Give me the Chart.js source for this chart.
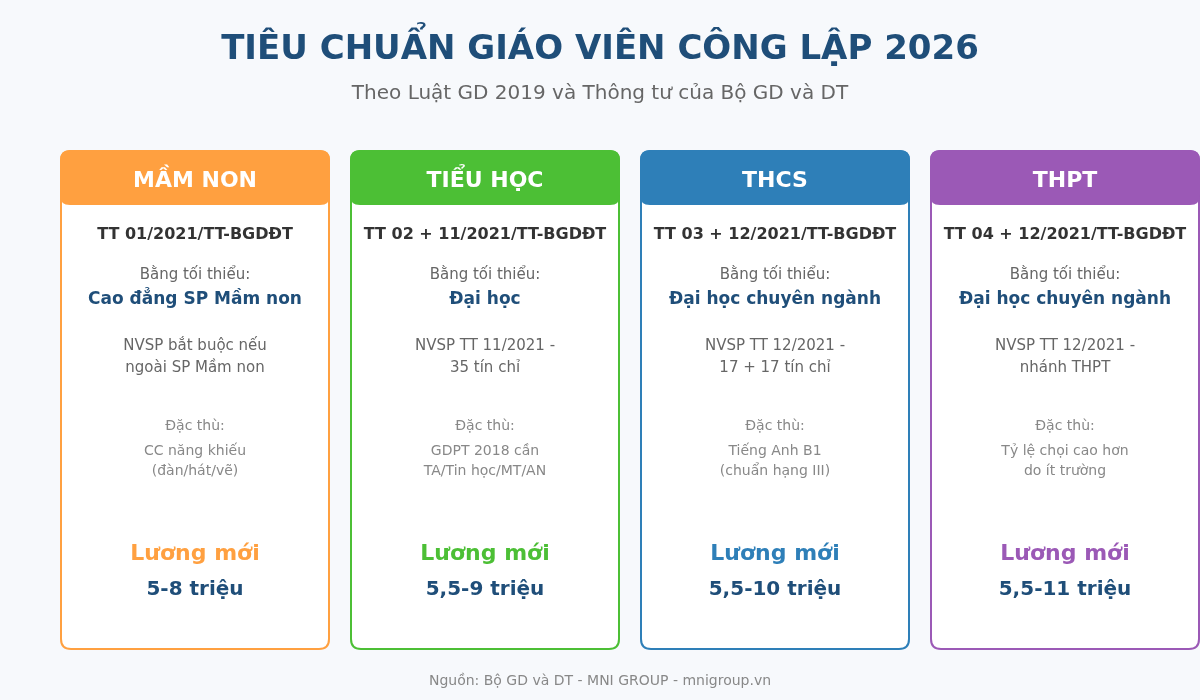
<!DOCTYPE html>
<html><head><meta charset="utf-8">
<script src="https://cdn.jsdelivr.net/npm/chart.js@4"></script>
<style>html,body{margin:0;padding:0;background:#f7f9fc;}#wrap{width:1200px;height:700px;}</style>
</head><body><div id="wrap"><canvas id="c" width="1200" height="700"></canvas></div>
<script>
const title = "TIÊU CHUẨN GIÁO VIÊN CÔNG LẬP 2026";
const subtitle = "Theo Luật GD 2019 và Thông tư của Bộ GD và DT";
const footer = "Nguồn: Bộ GD và DT - MNI GROUP - mnigroup.vn";
const categories = ["MẦM NON", "TIỂU HỌC", "THCS", "THPT"];
const colors = ["#ffa040", "#4cbf35", "#2e7fb8", "#9b59b6"];
const circulars = ["TT 01/2021/TT-BGDĐT", "TT 02 + 11/2021/TT-BGDĐT", "TT 03 + 12/2021/TT-BGDĐT", "TT 04 + 12/2021/TT-BGDĐT"];
const degrees = ["Cao đẳng SP Mầm non", "Đại học", "Đại học chuyên ngành", "Đại học chuyên ngành"];
const nvsp = [["NVSP bắt buộc nếu","ngoài SP Mầm non"],["NVSP TT 11/2021 -","35 tín chỉ"],["NVSP TT 12/2021 -","17 + 17 tín chỉ"],["NVSP TT 12/2021 -","nhánh THPT"]];
const special = [["CC năng khiếu","(đàn/hát/vẽ)"],["GDPT 2018 cần","TA/Tin học/MT/AN"],["Tiếng Anh B1","(chuẩn hạng III)"],["Tỷ lệ chọi cao hơn","do ít trường"]];
const salaries = ["5-8 triệu", "5,5-9 triệu", "5,5-10 triệu", "5,5-11 triệu"];
const positions = [0, 1, 2, 3];

const F = "'DejaVu Sans', sans-serif";
function rr(ctx,x,y,w,h,r){ctx.beginPath();ctx.moveTo(x+r,y);ctx.lineTo(x+w-r,y);ctx.quadraticCurveTo(x+w,y,x+w,y+r);ctx.lineTo(x+w,y+h-r);ctx.quadraticCurveTo(x+w,y+h,x+w-r,y+h);ctx.lineTo(x+r,y+h);ctx.quadraticCurveTo(x,y+h,x,y+h-r);ctx.lineTo(x,y+r);ctx.quadraticCurveTo(x,y,x+r,y);ctx.closePath();}
const cardPlugin = {
  id:'cards',
  beforeDraw(chart){const ctx=chart.ctx;ctx.save();ctx.fillStyle='#f7f9fc';ctx.fillRect(0,0,chart.width,chart.height);ctx.restore();},
  afterDraw(chart){
    const ctx=chart.ctx, xs=chart.scales.x;
    ctx.save();
    ctx.textAlign='center';ctx.textBaseline='middle';
    ctx.fillStyle='#1f4e79';ctx.font='bold 34px '+F;ctx.fillText(title,600,50);
    ctx.fillStyle='#666';ctx.font='20px '+F;ctx.fillText(subtitle,600,94);
    ctx.fillStyle='#888';ctx.font='14px '+F;ctx.fillText(footer,600,681);
    positions.forEach((p,i)=>{
      const cx=xs.getPixelForValue(p), w=270, x=cx-w/2, top=150, h=500, c=colors[i];
      rr(ctx,x+1,top+1,w-2,h-2,10);ctx.fillStyle='#fff';ctx.fill();ctx.lineWidth=2;ctx.strokeStyle=c;ctx.stroke();
      rr(ctx,x,top,w,55,10);ctx.fillStyle=c;ctx.fill();
      ctx.fillStyle='#fff';ctx.font='bold 22px '+F;ctx.fillText(categories[i],cx,181);
      ctx.fillStyle='#333';ctx.font='bold 16px '+F;ctx.fillText(circulars[i],cx,235);
      ctx.fillStyle='#666';ctx.font='15px '+F;ctx.fillText("Bằng tối thiểu:",cx,275);
      ctx.fillStyle='#1f4e79';ctx.font='bold 17px '+F;ctx.fillText(degrees[i],cx,300);
      ctx.fillStyle='#666';ctx.font='15px '+F;ctx.fillText(nvsp[i][0],cx,346);ctx.fillText(nvsp[i][1],cx,368);
      ctx.fillStyle='#888';ctx.font='14px '+F;ctx.fillText("Đặc thù:",cx,426);ctx.fillText(special[i][0],cx,451);ctx.fillText(special[i][1],cx,471);
      ctx.fillStyle=c;ctx.font='bold 22px '+F;ctx.fillText("Lương mới",cx,554);
      ctx.fillStyle='#1f4e79';ctx.font='bold 20px '+F;ctx.fillText(salaries[i],cx,590);
    });
    ctx.restore();
  }
};
new Chart(document.getElementById('c'),{
  type:'scatter',
  data:{datasets:[{data:positions.map(p=>({x:p,y:0})),pointRadius:0}]},
  options:{responsive:false,animation:false,events:[],
    layout:{padding:0},
    plugins:{legend:{display:false},tooltip:{enabled:false}},
    scales:{x:{type:'linear',min:-195/290,max:(1200-195)/290,display:false},y:{display:false,min:-1,max:1}}},
  plugins:[cardPlugin]
});
</script></body></html>
